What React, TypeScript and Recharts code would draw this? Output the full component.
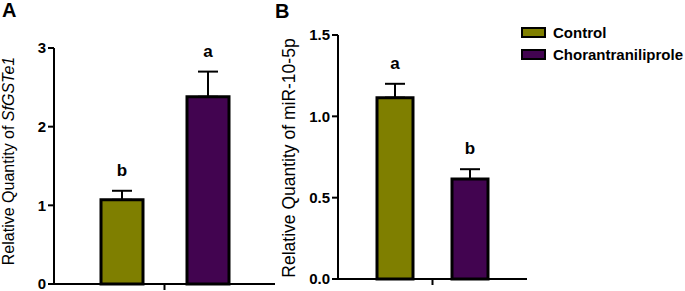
import { Bar, BarChart, ErrorBar, Label, LabelList, Legend, XAxis, YAxis } from "recharts";

const FONT = '"Liberation Sans", Arial, Helvetica, sans-serif';
const OLIVE = "#7f7f00";
const PURPLE = "#420450";
const INK = "#000";

// two treatment groups, shared by both panels
const GROUPS = ["Control", "Chorantraniliprole"];

// panel A: SfGSTe1 relative expression
const GST_MEAN = [1.07, 2.38];
const GST_ERR = [0.115, 0.32];
const GST_LETTERS = ["b", "a"];
const GST_TICKS = [0, 1, 2, 3];

// panel B: miR-10-5p relative expression
const MIR_MEAN = [1.115, 0.615];
const MIR_ERR = [0.085, 0.06];
const MIR_LETTERS = ["a", "b"];
const MIR_TICKS = [0, 0.5, 1.0, 1.5];

const toRow = (mean: number[], err: number[]) => [
  {
    group: "",
    control: mean[0],
    treated: mean[1],
    controlErr: [0, err[0]],
    treatedErr: [0, err[1]],
  },
];

const gstData = toRow(GST_MEAN, GST_ERR);
const mirData = toRow(MIR_MEAN, MIR_ERR);

// significance letter sitting above the error bar cap
const letterLabel = (letter: string, err: number, value: number) => (props: any) => {
  const { x, y, width, height } = props;
  const perUnit = height / value;
  const capY = y - err * perUnit;
  return (
    <text
      x={x + width / 2}
      y={capY - 15}
      textAnchor="middle"
      fontFamily={FONT}
      fontWeight="bold"
      fontSize={17}
      fill={INK}
    >
      {letter}
    </text>
  );
};

function AxisTitle({ viewBox, dx, dy, size, children }: any) {
  const cx = viewBox.x + dx;
  const cy = viewBox.y + viewBox.height / 2 + dy;
  return (
    <text
      x={cx}
      y={cy}
      transform={`rotate(-90, ${cx}, ${cy})`}
      textAnchor="middle"
      dominantBaseline="central"
      fontFamily={FONT}
      fontSize={size}
      fill={INK}
    >
      {children}
    </text>
  );
}

function LegendBox({ payload }: any) {
  const items = [...(payload || [])].sort(
    (a: any, b: any) => GROUPS.indexOf(a.value) - GROUPS.indexOf(b.value)
  );
  return (
    <div style={{ fontFamily: FONT, fontWeight: "bold", fontSize: 15, color: INK }}>
      {items.map((e: any) => (
        <div key={e.value} style={{ display: "flex", alignItems: "center", height: 22.5 }}>
          <span
            style={{
              width: 25,
              height: 11,
              background: e.color,
              border: "2px solid #000",
              boxSizing: "border-box",
              marginRight: 7,
            }}
          />
          <span>{e.value}</span>
        </div>
      ))}
    </div>
  );
}

const tickStyle = { fill: INK, fontFamily: FONT, fontWeight: "bold", fontSize: 15 } as const;
const lineStyle = { stroke: INK, strokeWidth: 2 };

function PanelLetter({ text, left, top }: { text: string; left: number; top: number }) {
  return (
    <div
      style={{
        position: "absolute",
        left,
        top,
        fontFamily: FONT,
        fontWeight: "bold",
        fontSize: 20,
        lineHeight: 1,
        color: INK,
      }}
    >
      {text}
    </div>
  );
}

export default function App() {
  return (
    <div style={{ position: "absolute", left: 0, top: 0, width: 685, height: 291, background: "#fff" }}>
      <div style={{ position: "absolute", left: 0, top: 0 }}>
        <BarChart
          width={277}
          height={291}
          data={gstData}
          margin={{ top: 48, right: 2, left: 0, bottom: 0 }}
          barSize={42}
          barGap={44}
        >
          <XAxis
            dataKey="group"
            height={7}
            axisLine={lineStyle}
            tickLine={lineStyle}
            tickSize={6}
            tickFormatter={() => ""}
          />
          <YAxis
            width={54}
            domain={[0, 3]}
            ticks={GST_TICKS}
            interval={0}
            axisLine={lineStyle}
            tickLine={lineStyle}
            tickSize={6}
            tick={tickStyle}
          >
            <Label
              content={(p: any) => (
                <AxisTitle viewBox={p.viewBox} dx={8} dy={-5} size={16}>
                  Relative Quantity of <tspan fontStyle="italic">SfGSTe1</tspan>
                </AxisTitle>
              )}
            />
          </YAxis>
          <Bar dataKey="control" name={GROUPS[0]} fill={OLIVE} stroke={INK} strokeWidth={3} isAnimationActive={false}>
            <ErrorBar dataKey="controlErr" width={10} stroke={INK} strokeWidth={2} isAnimationActive={false} />
            <LabelList content={letterLabel(GST_LETTERS[0], GST_ERR[0], GST_MEAN[0])} />
          </Bar>
          <Bar dataKey="treated" name={GROUPS[1]} fill={PURPLE} stroke={INK} strokeWidth={3} isAnimationActive={false}>
            <ErrorBar dataKey="treatedErr" width={10} stroke={INK} strokeWidth={2} isAnimationActive={false} />
            <LabelList content={letterLabel(GST_LETTERS[1], GST_ERR[1], GST_MEAN[1])} />
          </Bar>
        </BarChart>
      </div>

      <div style={{ position: "absolute", left: 270, top: 0 }}>
        <BarChart
          width={415}
          height={291}
          data={mirData}
          margin={{ top: 35, right: 158, left: 0, bottom: 0 }}
          barSize={36}
          barGap={39}
        >
          <XAxis
            dataKey="group"
            height={12}
            axisLine={lineStyle}
            tickLine={lineStyle}
            tickSize={6}
            tickFormatter={() => ""}
          />
          <YAxis
            width={68}
            domain={[0, 1.5]}
            ticks={MIR_TICKS}
            interval={0}
            axisLine={lineStyle}
            tickLine={lineStyle}
            tickSize={6}
            tick={tickStyle}
            tickFormatter={(v: number) => v.toFixed(1)}
          >
            <Label
              content={(p: any) => (
                <AxisTitle viewBox={p.viewBox} dx={19} dy={1} size={17.5}>
                  Relative Quantity of miR-10-5p
                </AxisTitle>
              )}
            />
          </YAxis>
          <Legend
            layout="vertical"
            align="center"
            verticalAlign="middle"
            content={<LegendBox />}
            wrapperStyle={{ left: 251, top: 21, width: "auto", height: "auto" }}
          />
          <Bar dataKey="control" name={GROUPS[0]} fill={OLIVE} stroke={INK} strokeWidth={3} isAnimationActive={false}>
            <ErrorBar dataKey="controlErr" width={10} stroke={INK} strokeWidth={2} isAnimationActive={false} />
            <LabelList content={letterLabel(MIR_LETTERS[0], MIR_ERR[0], MIR_MEAN[0])} />
          </Bar>
          <Bar dataKey="treated" name={GROUPS[1]} fill={PURPLE} stroke={INK} strokeWidth={3} isAnimationActive={false}>
            <ErrorBar dataKey="treatedErr" width={10} stroke={INK} strokeWidth={2} isAnimationActive={false} />
            <LabelList content={letterLabel(MIR_LETTERS[1], MIR_ERR[1], MIR_MEAN[1])} />
          </Bar>
        </BarChart>
      </div>

      <PanelLetter text="A" left={2} top={0} />
      <PanelLetter text="B" left={275} top={1} />
    </div>
  );
}
